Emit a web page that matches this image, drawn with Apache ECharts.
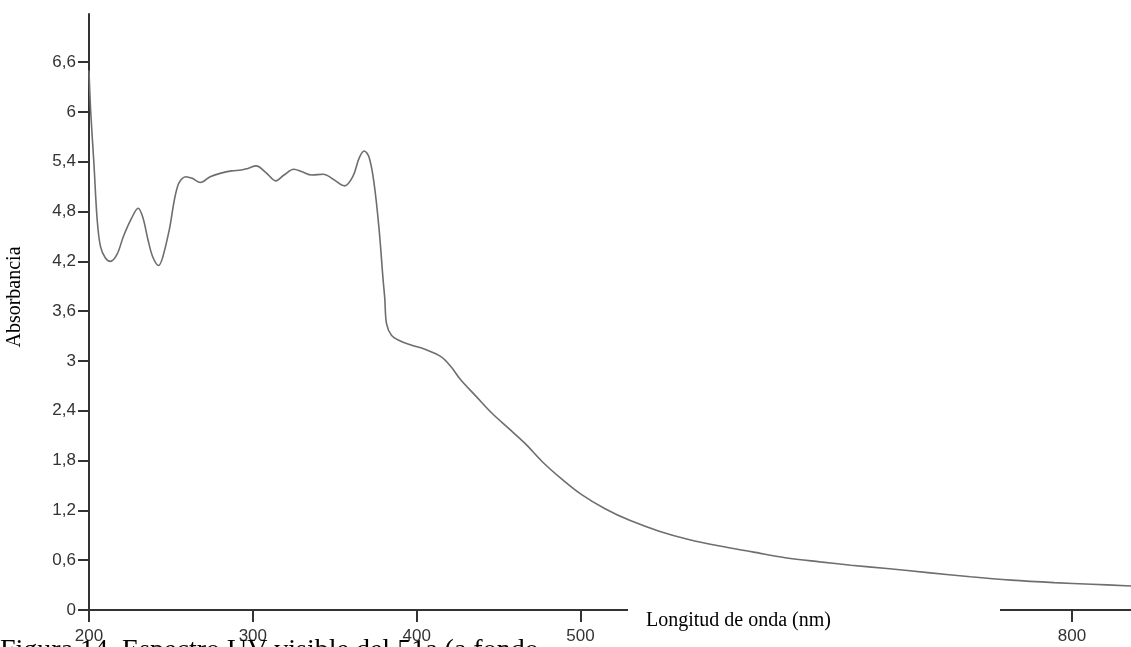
<!DOCTYPE html>
<html>
<head>
<meta charset="utf-8">
<title>Espectro UV-visible</title>
<script src="https://cdn.jsdelivr.net/npm/echarts@6/dist/echarts.min.js"></script>
<style>
  html, body { margin: 0; padding: 0; background: #fff; }
  #main { width: 1131px; height: 647px; }
</style>
</head>
<body>
<div id="main"></div>
<script>
// wavelength (nm) and absorbance
var wavelength = [200, 201, 203, 205, 207, 210, 213, 217, 221, 226, 230, 233, 236, 239, 242.5, 245, 249, 254, 259, 263,
  268, 274, 280, 287, 293, 297, 302, 308, 314, 319, 325, 330, 336, 343, 349, 356, 361, 365, 368, 371,
  374, 377, 379.5, 380.5, 381.6, 384.6, 390, 397, 405, 415, 421, 427, 436, 446, 456, 466, 477, 489, 500, 515,
  530, 548, 566, 585, 605, 625, 646, 665, 687, 712, 738, 763, 789, 812, 836];
var absorbance = [6.50, 6.02, 5.38, 4.70, 4.38, 4.24, 4.20, 4.28, 4.50, 4.72, 4.84, 4.72, 4.46, 4.25, 4.15, 4.25, 4.58, 5.10, 5.22, 5.20,
  5.15, 5.22, 5.26, 5.29, 5.30, 5.32, 5.35, 5.27, 5.17, 5.24, 5.31, 5.28, 5.24, 5.25, 5.19, 5.11, 5.22, 5.45, 5.53, 5.45,
  5.14, 4.60, 3.98, 3.76, 3.45, 3.31, 3.24, 3.19, 3.14, 3.05, 2.93, 2.77, 2.58, 2.37, 2.19, 2.01, 1.78, 1.57, 1.40, 1.22,
  1.08, 0.95, 0.85, 0.77, 0.70, 0.63, 0.58, 0.54, 0.50, 0.45, 0.40, 0.36, 0.33, 0.31, 0.29];

var xTicks = [200, 300, 400, 500, 600, 700, 800];
var yTicks = [0, 0.6, 1.2, 1.8, 2.4, 3, 3.6, 4.2, 4.8, 5.4, 6, 6.6];

var points = wavelength.map(function (w, i) { return [w, absorbance[i]]; });

var chart = echarts.init(document.getElementById('main'));

var axisLineStyle = { color: '#333', width: 2 };

chart.setOption({
  animation: false,
  backgroundColor: '#fff',
  grid: { left: 89, right: 0, top: 14, bottom: 37 },
  xAxis: {
    type: 'value',
    min: 200,
    max: 836,
    splitLine: { show: false },
    axisLine: { onZero: false, lineStyle: axisLineStyle },
    axisTick: { customValues: xTicks, length: 12, lineStyle: axisLineStyle },
    axisLabel: {
      customValues: xTicks,
      margin: 18,
      color: '#333',
      fontFamily: 'Liberation Sans, Arial, sans-serif',
      fontSize: 17
    }
  },
  yAxis: {
    type: 'value',
    min: 0,
    max: 7.18,
    splitLine: { show: false },
    axisLine: { show: true, lineStyle: axisLineStyle },
    axisTick: { show: true, customValues: yTicks, length: 11, lineStyle: axisLineStyle },
    axisLabel: {
      customValues: yTicks,
      margin: 13,
      color: '#333',
      fontFamily: 'Liberation Sans, Arial, sans-serif',
      fontSize: 17,
      formatter: function (v) { return String(v).replace('.', ','); }
    }
  },
  series: [{
    type: 'line',
    data: points,
    smooth: 0.35,
    showSymbol: false,
    clip: true,
    lineStyle: { color: '#6e6e6e', width: 1.6 }
  }],
  graphic: [
    {
      type: 'rect', z: 100,
      shape: { x: 628, y: 598, width: 372, height: 49 },
      style: { fill: '#fff' }
    },
    {
      type: 'text', z: 101, x: 646, y: 611,
      style: {
        text: 'Longitud de onda (nm)',
        font: '20px "Liberation Serif", "Times New Roman", serif',
        fill: '#000', verticalAlign: 'top'
      }
    },
    {
      type: 'text', z: 101, x: 15, y: 297, rotation: Math.PI / 2,
      style: {
        text: 'Absorbancia',
        font: '20px "Liberation Serif", "Times New Roman", serif',
        fill: '#000', align: 'center', verticalAlign: 'middle'
      }
    },
    {
      type: 'text', z: 101, x: 0, y: 637,
      style: {
        text: 'Figura 14. Espectro UV-visible del 51a (a fondo',
        font: '28px "Liberation Serif", "Times New Roman", serif',
        fill: '#000', verticalAlign: 'top'
      }
    }
  ]
});
</script>
</body>
</html>
